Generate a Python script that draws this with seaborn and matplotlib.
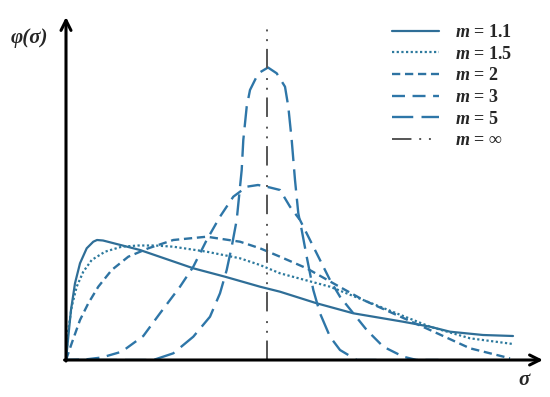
import numpy as np
import pandas as pd
import matplotlib
matplotlib.use("Agg")
import matplotlib.pyplot as plt
import seaborn as sns

# values (sigma, phi in arbitrary units)
s_11 = [0, .023, .05, .09, .14, .207, .273, .31, .37, .74, 1.273, 1.59, 1.94, 2.14, 2.507, 2.873, 3.37, 3.64, 3.84, 4.17, 4.47]
p_11 = [0, .233, .50, .767, .967, 1.117, 1.183, 1.20, 1.195, 1.10, .917, .833, .733, .683, .567, .467, .383, .333, .283, .25, .24]

s_15 = [0, .023, .057, .107, .173, .257, .39, .557, .723, .89, 1.073, 1.407, 1.74, 1.94, 2.14, 2.64, 3.14, 3.64, 4.04, 4.47]
p_15 = [0, .30, .533, .733, .883, 1.0, 1.083, 1.133, 1.145, 1.145, 1.133, 1.083, 1.017, .95, .867, .733, .533, .333, .217, .16]

s_2 = [0, .057, .14, .223, .323, .457, .623, .823, 1.073, 1.407, 1.74, 1.94, 2.14, 2.407, 2.673, 2.973, 3.307, 3.64, 4.04, 4.44]
p_2 = [0, .167, .40, .567, .733, .90, 1.033, 1.117, 1.20, 1.233, 1.183, 1.117, 1.033, .917, .767, .60, .45, .30, .117, .017]

s_3 = [0, .19, .357, .557, .773, .94, 1.14, 1.273, 1.407, 1.54, 1.673, 1.807, 1.92, 2.04, 2.14, 2.24, 2.34, 2.44,
       2.54, 2.64, 2.74, 2.873, 3.007, 3.173, 3.373, 3.507, 3.74]
p_3 = [0, .005, .025, .083, .24, .467, .733, .933, 1.20, 1.433, 1.633, 1.733, 1.75, 1.725, 1.70, 1.533, 1.40, 1.20,
       1.00, .80, .633, .467, .30, .133, .033, 0, 0]

s_5 = [0, .74, .873, 1.073, 1.273, 1.44, 1.54, 1.607, 1.657, 1.707, 1.757, 1.773, 1.807, 1.84, 1.923, 2.02, 2.107,
       2.19, 2.223, 2.257, 2.29, 2.323, 2.357, 2.407, 2.473, 2.54, 2.64, 2.74, 2.907, 3.14]
p_5 = [0, 0, 0, .067, .233, .433, .667, .90, 1.133, 1.40, 1.90, 2.20, 2.533, 2.70, 2.867, 2.925, 2.867, 2.733,
       2.533, 2.20, 1.80, 1.467, 1.30, 1.033, .70, .467, .233, .10, 0, 0]

s_inf = [2.01, 2.01]
p_inf = [0, 3.37]

labels = [r"$m$ = 1.1", r"$m$ = 1.5", r"$m$ = 2", r"$m$ = 3", r"$m$ = 5", r"$m$ = ∞"]

sns.set_style("white")
plt.rcParams["font.family"] = ["Liberation Serif", "DejaVu Serif"]
plt.rcParams["mathtext.fontset"] = "custom"
plt.rcParams["mathtext.it"] = "Liberation Serif:italic:bold"
plt.rcParams["mathtext.rm"] = "Liberation Serif:bold"

fig = plt.figure(figsize=(5.5, 3.97), dpi=100)
ax = fig.add_axes([66 / 550, 37 / 397, 477 / 550, 343 / 397])

curves = [
    (s_11, p_11, "#2f6e97", "-", 1.6),
    (s_15, p_15, "#2c799d", (0, (1, 1.1)), 1.6),
    (s_2, p_2, "#2e73a2", (0, (3.5, 2)), 1.7),
    (s_3, p_3, "#2e76a8", (0, (5.5, 3.2)), 1.7),
    (s_5, p_5, "#2e76a8", (0, (9, 3.5)), 1.7),
    (s_inf, p_inf, "#555555", (0, (10, 4, 1, 4, 1, 5)), 1.4),
]
for (s, p, c, ls, lw), lab in zip(curves, labels):
    df = pd.DataFrame({"sigma": s, "phi": p})
    sns.lineplot(data=df, x="sigma", y="phi", ax=ax, sort=False, estimator=None,
                 color=c, linestyle=ls, lw=lw, label=lab)

ax.set_xlim(0, 4.77)
ax.set_ylim(0, 3.43)
ax.set_xticks([])
ax.set_yticks([])
ax.set_xlabel("")
ax.set_ylabel("")
for sp in ax.spines.values():
    sp.set_visible(False)

# axis arrows
arrow = dict(arrowstyle="->", lw=2.2, color="black", mutation_scale=18, shrinkA=0, shrinkB=0)
ax.annotate("", xy=(1, 0), xytext=(-0.003, 0), xycoords="axes fraction", arrowprops=arrow, annotation_clip=False)
ax.annotate("", xy=(0, 1), xytext=(0, -0.003), xycoords="axes fraction", arrowprops=arrow, annotation_clip=False)

fig.text(29 / 550, 1 - 38 / 397, "φ(σ)", fontsize=15, fontweight="bold", fontstyle="italic",
         ha="center", va="center")
fig.text(524 / 550, 1 - 380 / 397, "σ", fontsize=15, fontweight="bold", fontstyle="italic",
         ha="center", va="center")

ax.legend(loc="upper left", bbox_to_anchor=(392 / 550, 1 - 24 / 397), bbox_transform=fig.transFigure,
          frameon=False, borderpad=0, borderaxespad=0, handlelength=2.6, handletextpad=0.9,
          labelspacing=0.26, prop={"family": "Liberation Serif", "weight": "bold", "size": 13})

fig.savefig("out.png", dpi=100)
